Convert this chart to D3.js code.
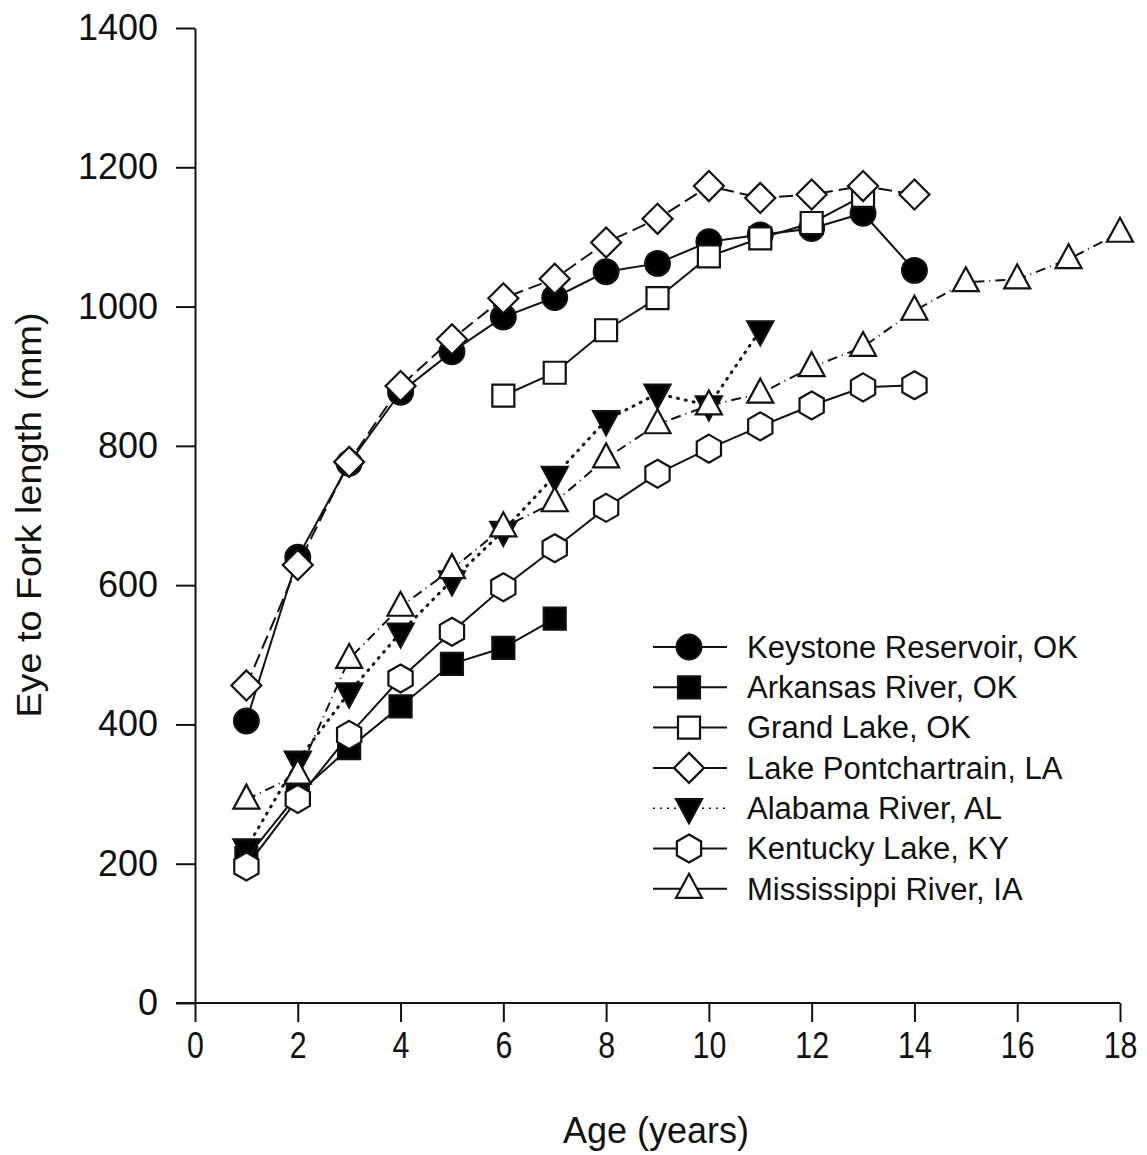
<!DOCTYPE html>
<html>
<head>
<meta charset="utf-8">
<script src="https://cdn.jsdelivr.net/npm/d3@7"></script>
<style>
  body { margin: 0; background: #fff; }
  text { font-family: Arial, "Liberation Sans", sans-serif; fill: #111; }
</style>
</head>
<body>
<svg id="chart" width="1147" height="1155"></svg>
<script>
// age (years) and eye-to-fork length (mm) per population
var keystoneAge = [1, 2, 3, 4, 5, 6, 7, 8, 9, 10, 11, 12, 13, 14];
var keystoneLen = [405, 640, 775, 877, 935, 985, 1013, 1050, 1062, 1093, 1103, 1112, 1134, 1052];

var arkansasAge = [1, 2, 3, 4, 5, 6, 7];
var arkansasLen = [208, 300, 366, 426, 487, 510, 552];

var grandAge = [6, 7, 8, 9, 10, 11, 12, 13];
var grandLen = [872, 905, 966, 1012, 1072, 1098, 1120, 1159];

var pontAge = [1, 2, 3, 4, 5, 6, 7, 8, 9, 10, 11, 12, 13, 14];
var pontLen = [456, 629, 777, 886, 953, 1012, 1040, 1092, 1126, 1173, 1156, 1161, 1173, 1161];

var alabamaAge = [1, 2, 3, 4, 5, 6, 7, 8, 9, 10, 11];
var alabamaLen = [222, 348, 446, 532, 607, 678, 757, 837, 875, 858, 966];

var kentuckyAge = [1, 2, 3, 4, 5, 6, 7, 8, 9, 10, 11, 12, 13, 14];
var kentuckyLen = [196, 293, 385, 466, 533, 597, 653, 711, 760, 796, 828, 858, 884, 887];

var missAge = [1, 2, 3, 4, 5, 6, 7, 8, 9, 10, 11, 12, 13, 14, 15, 16, 17, 18];
var missLen = [292, 328, 494, 569, 623, 683, 719, 782, 831, 858, 875, 913, 942, 994, 1035, 1039, 1068, 1106];

var seriesNames = ["Keystone Reservoir, OK", "Arkansas River, OK", "Grand Lake, OK",
  "Lake Pontchartrain, LA", "Alabama River, AL", "Kentucky Lake, KY", "Mississippi River, IA"];

var xTicks = [0, 2, 4, 6, 8, 10, 12, 14, 16, 18];
var yTicks = [0, 200, 400, 600, 800, 1000, 1200, 1400];

function zip(a, b) { return a.map(function(v, i) { return [v, b[i]]; }); }

var series = [
  { name: seriesNames[0], pts: zip(keystoneAge, keystoneLen), shape: "circle", fill: "#000", dash: null },
  { name: seriesNames[1], pts: zip(arkansasAge, arkansasLen), shape: "square", fill: "#000", dash: null },
  { name: seriesNames[2], pts: zip(grandAge, grandLen), shape: "square", fill: "#fff", dash: null },
  { name: seriesNames[3], pts: zip(pontAge, pontLen), shape: "diamond", fill: "#fff", dash: "14,6" },
  { name: seriesNames[4], pts: zip(alabamaAge, alabamaLen), shape: "down", fill: "#000", dash: "1,7" },
  { name: seriesNames[5], pts: zip(kentuckyAge, kentuckyLen), shape: "hexagon", fill: "#fff", dash: null },
  { name: seriesNames[6], pts: zip(missAge, missLen), shape: "up", fill: "#fff", dash: "10,5,1,5" }
];

var svg = d3.select("#chart");

var x = d3.scaleLinear().domain([0, 18]).range([195, 1120]);
var y = d3.scaleLinear().domain([0, 1400]).range([1003, 28]);

// axes
var xAxis = svg.append("g")
  .attr("transform", "translate(0," + y(0) + ")")
  .call(d3.axisBottom(x).tickValues(xTicks).tickSize(19).tickSizeOuter(0).tickPadding(10));
xAxis.select(".domain").attr("d", "M176,0H" + x(18));
xAxis.selectAll("text").attr("font-size", 37).attr("transform", "scale(0.82,1)");

var yAxis = svg.append("g")
  .attr("transform", "translate(" + x(0) + ",0)")
  .call(d3.axisLeft(y).tickValues(yTicks).tickFormat(d3.format("d")).tickSize(19).tickSizeOuter(0).tickPadding(18));
yAxis.selectAll("text").attr("font-size", 36);

svg.selectAll(".domain, .tick line").attr("stroke", "#111").attr("stroke-width", 2);

svg.append("text")
  .attr("x", 656).attr("y", 1143)
  .attr("text-anchor", "middle").attr("font-size", 36)
  .text("Age (years)");

svg.append("text")
  .attr("transform", "translate(41,515) rotate(-90) scale(1.08,1)")
  .attr("text-anchor", "middle").attr("font-size", 35)
  .text("Eye to Fork length (mm)");

// marker shapes
function markerPath(shape) {
  if (shape === "circle") return d3.symbol(d3.symbolCircle, 480)();
  if (shape === "square") return "M-11,-11H11V11H-11Z";
  if (shape === "diamond") return "M0,-15L15,0L0,15L-15,0Z";
  if (shape === "up") return "M0,-15L13,9L-13,9Z";
  if (shape === "down") return "M0,15L13,-9L-13,-9Z";
  if (shape === "hexagon") {
    var r = 14, p = [];
    for (var i = 0; i < 6; i++) {
      var a = Math.PI / 3 * i - Math.PI / 2;
      p.push([r * Math.cos(a), r * Math.sin(a)]);
    }
    return "M" + p.join("L") + "Z";
  }
}

var line = d3.line().x(function(d) { return x(d[0]); }).y(function(d) { return y(d[1]); });

var plot = svg.append("g");

series.forEach(function(s) {
  plot.append("path")
    .attr("d", line(s.pts))
    .attr("fill", "none")
    .attr("stroke", "#111")
    .attr("stroke-width", s.dash === "1,7" ? 3 : 2)
    .attr("stroke-linecap", s.dash === "1,7" ? "round" : "butt")
    .attr("stroke-dasharray", s.dash);
});

series.forEach(function(s) {
  plot.selectAll(null)
    .data(s.pts)
    .enter().append("path")
    .attr("d", markerPath(s.shape))
    .attr("transform", function(d) { return "translate(" + x(d[0]) + "," + y(d[1]) + ")"; })
    .attr("fill", s.fill)
    .attr("stroke", "#111")
    .attr("stroke-width", 2.2);
});

// legend
var legend = svg.append("g");
series.forEach(function(s, i) {
  var ly = 647 + i * 40.3;
  var g = legend.append("g").attr("transform", "translate(0," + ly + ")");
  g.append("line")
    .attr("x1", 653).attr("x2", 727)
    .attr("stroke", "#111")
    .attr("stroke-width", s.dash === "1,7" ? 1.5 : 2)
    .attr("stroke-dasharray", s.dash === "1,7" ? "2,5" : null);
  g.append("path")
    .attr("d", markerPath(s.shape))
    .attr("transform", "translate(689,0)")
    .attr("fill", s.fill)
    .attr("stroke", "#111")
    .attr("stroke-width", 2.2);
  g.append("text")
    .attr("x", 747).attr("y", 0).attr("dy", "0.35em")
    .attr("font-size", 31)
    .text(s.name);
});
</script>
</body>
</html>
